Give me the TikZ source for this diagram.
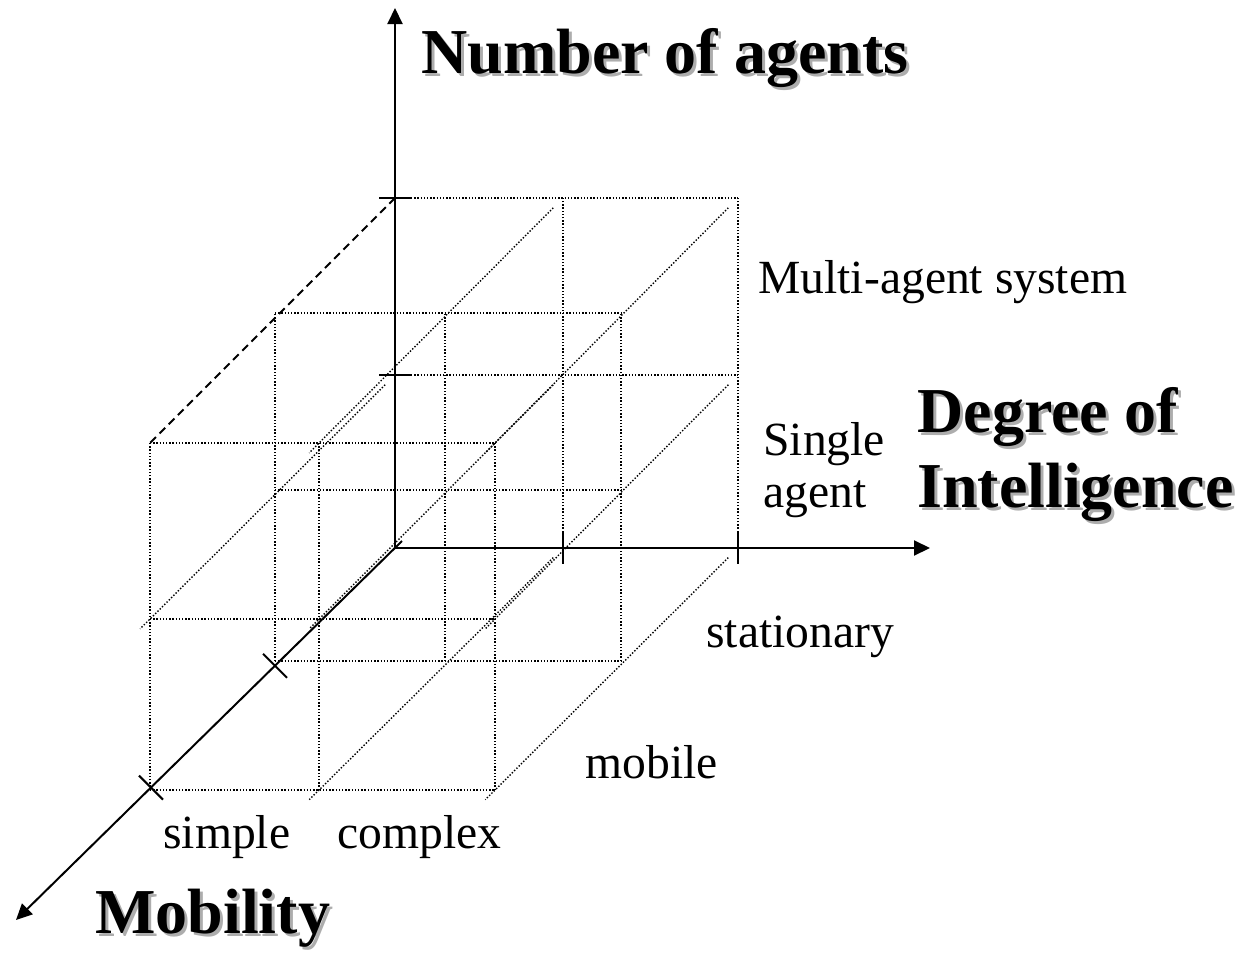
\documentclass[tikz,border=0pt]{standalone}
\usepackage{fontspec}
\setmainfont{Liberation Serif}
\usetikzlibrary{arrows.meta,calc}
\begin{document}
\begin{tikzpicture}[x=0.5pt,y=-0.5pt,
  grid/.style={line width=0.7pt, dash pattern=on 0.7pt off 0.9pt},
  axis/.style={line width=1pt, -{Triangle[length=8pt,width=7.5pt]}},
  tickmark/.style={line width=1pt},
  lbl/.style={anchor=base west, inner sep=0pt, font=\fontsize{23.8}{28}\selectfont},
  ttl/.style={anchor=base west, inner sep=0pt, font=\fontsize{32}{38}\selectfont\bfseries},
  shd/.style={ttl, text=black!32}]
\useasboundingbox (0,0) rectangle (1241,953);
% lattice points p<i><j><k>
\foreach \k/\xa/\xb/\xc/\ya/\yb/\yc in {0/395/563/738/548/375/198, 1/275/445/621/661/490/313, 2/150/319/495/790/619/443}{
  \foreach \i/\x in {0/\xa,1/\xb,2/\xc}{
    \foreach \j/\y in {0/\ya,1/\yb,2/\yc}{
      \coordinate (p\i\j\k) at (\x,\y);
    }}}
% grid lines along x
\foreach \j/\k in {1/0,2/0,0/1,1/1,2/1,0/2,1/2,2/2}
  \draw[grid] (p0\j\k) -- (p2\j\k);
% grid lines along y
\foreach \i/\k in {1/0,2/0,0/1,1/1,2/1,0/2,1/2,2/2}
  \draw[grid] (p\i0\k) -- (p\i2\k);
% grid lines in depth
\foreach \i/\j in {0/1,1/0,1/1,1/2,2/0,2/1,2/2}
  \draw[grid] ($(p\i\j0)!0.04!(p\i\j2)$) -- ($(p\i\j0)!1.04!(p\i\j2)$);
\draw[line width=1pt, dash pattern=on 4pt off 2.5pt] (p020) -- (p022);
% axes
\coordinate (ytip) at (395,8);
\coordinate (xtip) at (930,548);
\coordinate (ztip) at (16,920);
\coordinate (zstart) at (402,541);
\draw[axis] (p000) -- (ytip);
\draw[axis] (p000) -- (xtip);
\draw[axis] (zstart) -- (ztip);
% ticks
\foreach \p in {p010,p020}
  \draw[tickmark] ($(\p)+(-16,0)$) -- ($(\p)+(16,0)$);
\foreach \p in {p100,p200}
  \draw[tickmark] ($(\p)+(0,-16)$) -- ($(\p)+(0,16)$);
\coordinate (zt1) at ($(p000)!0.3166!(ztip)$);
\coordinate (zt2) at ($(p000)!0.644!(ztip)$);
\foreach \p in {zt1,zt2}
  \draw[tickmark] ($(\p)+(-12,-12)$) -- ($(\p)+(12,12)$);
% labels
\node[lbl] (mas) at (758,293) {Multi-agent system};
\node[lbl] (single) at (763,455) {Single};
\node[lbl] (agent) at (763,507) {agent};
\node[lbl] (stat) at (706,647) {stationary};
\node[lbl] (mob) at (585,778) {mobile};
\node[lbl] (simp) at (163,848) {simple};
\node[lbl] (cplx) at (337,848) {complex};
% titles with shadow
\node[shd] (numS) at (424,76) {Number of agents};
\node[ttl] (num) at (421,73) {Number of agents};
\node[shd] (degS) at (920,435) {Degree of};
\node[ttl] (deg) at (917,432) {Degree of};
\node[shd] (intS) at (920,510) {Intelligence};
\node[ttl] (int) at (917,507) {Intelligence};
\node[shd] (mobiS) at (98,936) {Mobility};
\node[ttl] (mobi) at (95,933) {Mobility};
\end{tikzpicture}
\end{document}
